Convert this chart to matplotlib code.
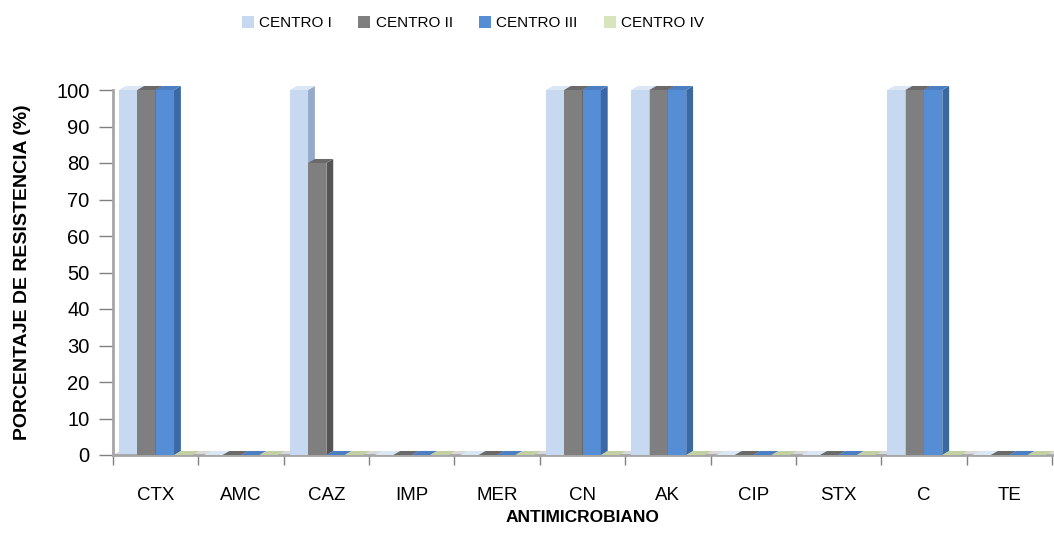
import numpy as np
import matplotlib
matplotlib.use('Agg')
import matplotlib.pyplot as plt
from matplotlib.patches import Polygon, Patch

categories = ['CTX', 'AMC', 'CAZ', 'IMP', 'MER', 'CN', 'AK', 'CIP', 'STX', 'C', 'TE']
series_names = ['CENTRO I', 'CENTRO II', 'CENTRO III', 'CENTRO IV']
centro_1 = [100, 0, 100, 0, 0, 100, 100, 0, 0, 100, 0]
centro_2 = [100, 0, 80, 0, 0, 100, 100, 0, 0, 100, 0]
centro_3 = [100, 0, 0, 0, 0, 100, 100, 0, 0, 100, 0]
centro_4 = [0, 0, 0, 0, 0, 0, 0, 0, 0, 0, 0]
yticks = list(range(0, 101, 10))

front = ['#C6D9F1', '#7F7F7F', '#558ED5', '#D7E4BD']
side = ['#95AACA', '#555555', '#3A68A4', '#A3B488']
top = ['#DCE7F5', '#6A6A6A', '#4C7EC2', '#C2D0A4']

plt.rcParams['font.family'] = ['Liberation Sans', 'DejaVu Sans']

fig = plt.figure(figsize=(10.54, 5.54), dpi=100)
ax = fig.add_axes([113/1054, 99/554, 939/1054, 365/554])
ax.set_xlim(0, len(categories))
ax.set_ylim(0, 100)

w = 0.215
off = 0.07
dx = 0.08
dy = 1.1

# floor slab
ax.add_patch(Polygon([(0, 0), (len(categories), 0), (len(categories) + dx, dy), (dx, dy)],
                     closed=True, facecolor='#D9D9D9', edgecolor='none', zorder=1, clip_on=False))

data = [centro_1, centro_2, centro_3, centro_4]
for i in range(len(categories)):
    for j in range(4):
        v = data[j][i]
        x0 = i + off + j * w
        z = 2 + i * 10 + j
        ax.add_patch(Polygon([(x0, 0), (x0 + w, 0), (x0 + w, v), (x0, v)],
                             closed=True, facecolor=front[j], edgecolor='none', zorder=z, clip_on=False))
        ax.add_patch(Polygon([(x0 + w, 0), (x0 + w + dx, dy), (x0 + w + dx, v + dy), (x0 + w, v)],
                             closed=True, facecolor=side[j], edgecolor='none', zorder=z, clip_on=False))
        ax.add_patch(Polygon([(x0, v), (x0 + w, v), (x0 + w + dx, v + dy), (x0 + dx, v + dy)],
                             closed=True, facecolor=top[j], edgecolor='none', zorder=z, clip_on=False))

for s in ['top', 'right']:
    ax.spines[s].set_visible(False)
ax.spines['left'].set_color('#A6A6A6')
ax.spines['left'].set_linewidth(2)
ax.spines['bottom'].set_color('#A6A6A6')
ax.spines['bottom'].set_linewidth(2)

ax.set_yticks(yticks)
ax.set_yticklabels([str(t) for t in yticks], fontsize=14.5)
ax.tick_params(axis='y', length=10, width=1, color='#808080', pad=7)

ax.set_xticks(range(len(categories) + 1))
ax.set_xticklabels([])
ax.tick_params(axis='x', which='major', length=7, width=1, color='#808080', direction='out')
ax.set_xticks(np.arange(len(categories)) + 0.5, minor=True)
ax.set_xticklabels(categories, minor=True, fontsize=13.5)
ax.tick_params(axis='x', which='minor', length=0, pad=23)

ax.set_ylabel('PORCENTAJE DE RESISTENCIA (%)', fontsize=14, fontweight='bold', labelpad=18)
ax.set_xlabel('ANTIMICROBIANO', fontsize=12.5, fontweight='bold', labelpad=4)

handles = [Patch(facecolor=front[j], edgecolor='none') for j in range(4)]
fig.legend(handles, series_names, loc='center', bbox_to_anchor=(473/1054, 1 - 23/554),
           ncol=4, frameon=False, handlelength=0.8, handleheight=0.8, handletextpad=0.35,
           columnspacing=1.7, prop={'size': 11})

fig.savefig('out.png', dpi=100)
